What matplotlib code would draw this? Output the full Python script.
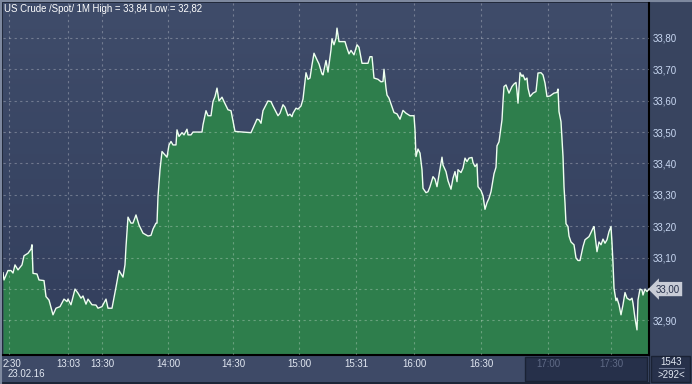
import numpy as np
import matplotlib
matplotlib.use("Agg")
import matplotlib.pyplot as plt
import matplotlib.transforms as mtransforms
from matplotlib.patches import Rectangle
from matplotlib.lines import Line2D

plt.rcParams['font.family'] = ['Liberation Sans', 'DejaVu Sans']

# tick number (x) and price (y)
tick = [3, 4, 8, 11, 13, 15, 18, 22, 24, 28, 31, 32, 33, 37, 39, 44, 46, 49, 53, 56,
        60, 64, 67, 68, 71, 75, 78, 81, 83, 86, 88, 92, 96, 98, 102, 106, 108, 112, 116, 119,
        123, 125, 126, 128, 131, 133, 136, 139, 143, 148, 151, 153, 156, 157, 158, 160, 162, 165, 167, 169,
        171, 173, 176, 177, 179, 182, 184, 187, 188, 191, 193, 202, 203, 206, 208, 211, 213, 215, 217, 219,
        222, 224, 228, 231, 235, 251, 257, 259, 261, 263, 268, 271, 273, 278, 280, 283, 285, 288, 290, 292,
        293, 296, 298, 301, 303, 306, 308, 310, 312, 314, 317, 319, 322, 323, 326, 328, 331, 332, 334, 336,
        337, 339, 345, 347, 349, 351, 353, 354, 357, 359, 362, 368, 370, 372, 374, 378, 381, 383, 384, 386,
        387, 389, 392, 394, 397, 400, 403, 406, 410, 414, 415, 416, 418, 420, 422, 423, 426, 428, 430, 433,
        435, 437, 439, 442, 443, 446, 448, 451, 453, 455, 457, 458, 461, 463, 465, 467, 469, 472, 473, 475,
        477, 478, 481, 483, 485, 487, 489, 491, 494, 496, 497, 499, 502, 503, 504, 506, 509, 512, 514, 516,
        517, 518, 520, 522, 523, 525, 527, 528, 530, 533, 536, 538, 541, 543, 545, 547, 550, 554, 557, 558,
        559, 561, 563, 564, 565, 566, 568, 569, 571, 574, 576, 578, 580, 583, 585, 587, 589, 591, 593, 594,
        596, 597, 599, 601, 603, 605, 607, 609, 611, 612, 613, 614, 616, 617, 619, 621, 623, 625, 627, 630,
        632, 633, 635, 637, 638, 640, 642, 643, 645, 647, 649]
price = [33.052, 33.029, 33.059, 33.059, 33.051, 33.077, 33.061, 33.077, 33.106, 33.114,
         33.127, 33.141, 33.050, 33.048, 33.029, 33.027, 32.976, 32.965, 32.918, 32.939,
         32.944, 32.968, 32.960, 32.968, 32.950, 33.000, 32.987, 32.971, 32.978, 32.952,
         32.968, 32.950, 32.949, 32.939, 32.944, 32.968, 32.939, 32.939, 33.006, 33.059,
         33.038, 33.077, 33.135, 33.229, 33.210, 33.210, 33.236, 33.204, 33.178, 33.169,
         33.171, 33.191, 33.210, 33.210, 33.295, 33.380, 33.438, 33.427, 33.420, 33.459,
         33.470, 33.459, 33.459, 33.507, 33.486, 33.498, 33.491, 33.509, 33.491, 33.491,
         33.500, 33.500, 33.523, 33.568, 33.552, 33.552, 33.597, 33.613, 33.640, 33.599,
         33.611, 33.597, 33.571, 33.568, 33.502, 33.498, 33.541, 33.539, 33.528, 33.568,
         33.599, 33.597, 33.583, 33.552, 33.560, 33.587, 33.579, 33.552, 33.557, 33.549,
         33.560, 33.576, 33.573, 33.583, 33.605, 33.689, 33.668, 33.672, 33.714, 33.751,
         33.730, 33.717, 33.685, 33.682, 33.728, 33.691, 33.762, 33.797, 33.778, 33.799,
         33.831, 33.788, 33.788, 33.767, 33.749, 33.760, 33.751, 33.746, 33.778, 33.770,
         33.719, 33.719, 33.740, 33.740, 33.672, 33.668, 33.660, 33.661, 33.700, 33.640,
         33.618, 33.608, 33.581, 33.562, 33.558, 33.541, 33.569, 33.560, 33.552, 33.552,
         33.507, 33.422, 33.446, 33.433, 33.380, 33.321, 33.307, 33.310, 33.326, 33.358,
         33.350, 33.326, 33.364, 33.420, 33.395, 33.374, 33.345, 33.318, 33.353, 33.374,
         33.342, 33.380, 33.371, 33.385, 33.417, 33.406, 33.417, 33.419, 33.403, 33.390,
         33.398, 33.326, 33.314, 33.297, 33.254, 33.275, 33.289, 33.310, 33.367, 33.388,
         33.456, 33.469, 33.539, 33.597, 33.645, 33.650, 33.624, 33.645, 33.653, 33.658,
         33.629, 33.592, 33.689, 33.677, 33.682, 33.666, 33.672, 33.640, 33.613, 33.624,
         33.629, 33.688, 33.689, 33.682, 33.656, 33.613, 33.615, 33.624, 33.626, 33.637,
         33.565, 33.533, 33.422, 33.326, 33.274, 33.208, 33.199, 33.169, 33.150, 33.141,
         33.099, 33.091, 33.091, 33.135, 33.157, 33.162, 33.167, 33.180, 33.194, 33.199,
         33.146, 33.119, 33.150, 33.141, 33.159, 33.146, 33.157, 33.183, 33.199, 33.146,
         33.082, 33.003, 32.963, 32.971, 32.950, 32.918, 32.950, 32.989, 32.971, 32.965,
         32.971, 32.955, 32.907, 32.870, 32.965, 33.000, 32.997, 32.981, 33.000, 32.992,
         33.000]

time_ticks = [9, 68, 102, 168, 233, 299, 356, 414, 481, 548, 611]
time_labels = ['2:30', '13:03', '13:30', '14:00', '14:30', '15:00', '15:31',
               '16:00', '16:30', '17:00', '17:30']
price_ticks = [32.9, 33.0, 33.1, 33.2, 33.3, 33.4, 33.5, 33.6, 33.7, 33.8]
title = 'US Crude /Spot/ 1M High = 33,84 Low = 32,82'
date_label = '23.02.16'
last_price = 33.00

W, H = 692, 384
fig = plt.figure(figsize=(W / 100, H / 100), dpi=100, facecolor='#1d2537')

# panels (behind the axes)
fig.patches.append(Rectangle((650 / W, 0), 42 / W, 1, transform=fig.transFigure,
                             facecolor='#38445f', edgecolor='none', zorder=-3))
fig.patches.append(Rectangle((2 / W, 2 / H), 647 / W, 26 / H, transform=fig.transFigure,
                             facecolor='#3e4a67', edgecolor='none', zorder=-3))
fig.patches.append(Rectangle((525 / W, 3 / H), 122 / W, 24 / H, transform=fig.transFigure,
                             facecolor='#26304a', edgecolor='#1a2234', lw=1, zorder=-2))
fig.patches.append(Rectangle((651 / W, 2 / H), 39 / W, 26 / H, transform=fig.transFigure,
                             facecolor='#27314b', edgecolor='#1a2234', lw=1, zorder=-2))
# frame light edges
fig.lines.append(Line2D([0, 1], [1 - 1 / H, 1 - 1 / H], transform=fig.transFigure,
                        color='#7d889e', lw=1.5, zorder=-1))
fig.lines.append(Line2D([1 / W, 1 / W], [0, 1], transform=fig.transFigure,
                        color='#7d889e', lw=1.5, zorder=-1))

ax = fig.add_axes([3 / W, 29 / H, 646 / W, 352 / H])
ax.set_xlim(3, 649)
ax.set_ylim(32.790, 33.911)

# background gradient
grad = np.linspace(0, 1, 256).reshape(-1, 1)
cmap = matplotlib.colors.LinearSegmentedColormap.from_list('bg', ['#323e5c', '#3f4c6a'])
ax.imshow(grad, extent=(3, 649, 32.790, 33.911), origin='lower', aspect='auto',
          cmap=cmap, zorder=0)

ax.fill_between(tick, price, 32.790, color='#2e7e4c', lw=0, zorder=1)
ax.plot(tick, price, color='#eefff0', lw=1.0, zorder=3)

ax.set_xticks(time_ticks)
ax.set_xticklabels(time_labels)
ax.set_yticks(price_ticks)
# the label at the last price sits under the price tag
ax.set_yticklabels(['' if abs(v - last_price) < 1e-9 else f'{v:.2f}'.replace('.', ',')
                    for v in price_ticks])
ax.yaxis.tick_right()
ax.tick_params(axis='both', length=0, labelsize=7)
ax.tick_params(axis='y', pad=2.5, labelcolor='#c9d8f2')
ax.tick_params(axis='x', pad=3, labelcolor='#e2e8f2')
for lab in ax.get_xticklabels()[-2:]:
    lab.set_color('#5f6a86')
first = ax.get_xticklabels()[0]
first.set_transform(first.get_transform() +
                    mtransforms.ScaledTranslation(3 / 100, 0, fig.dpi_scale_trans))

ax.grid(True, color='white', alpha=0.28, lw=0.8, linestyle=(0, (2, 3)))
ax.set_axisbelow(False)

for s in ['left', 'top']:
    ax.spines[s].set_visible(False)
for s in ['right', 'bottom']:
    ax.spines[s].set_color('black')
    ax.spines[s].set_linewidth(1.5)

ax.text(0.002, 0.997, title, transform=ax.transAxes, ha='left', va='top',
        color='white', fontsize=6.9)

# last price tag
ax.annotate(f'{last_price:.2f}'.replace('.', ','), xy=(1.0, last_price),
            xycoords=ax.get_yaxis_transform(), xytext=(5, 0), textcoords='offset points',
            ha='left', va='center', fontsize=7, color='#26304a',
            bbox=dict(boxstyle='larrow,pad=0.22', facecolor='#c8ccd6', edgecolor='none'),
            annotation_clip=False)

fig.text(8 / W, 1 - 374 / H, date_label, ha='left', va='center', color='#e2e8f2', fontsize=7)
fig.text(671 / W, 1 - 362 / H, '1543', ha='center', va='center', color='#e2e8f2', fontsize=7)
fig.lines.append(Line2D([659 / W, 684 / W], [1 - 368 / H, 1 - 368 / H],
                        transform=fig.transFigure, color='#6a7590', lw=0.8))
fig.text(671 / W, 1 - 375 / H, '>292<', ha='center', va='center', color='#e2e8f2', fontsize=7)

fig.savefig('out.png', dpi=100, facecolor=fig.get_facecolor())
